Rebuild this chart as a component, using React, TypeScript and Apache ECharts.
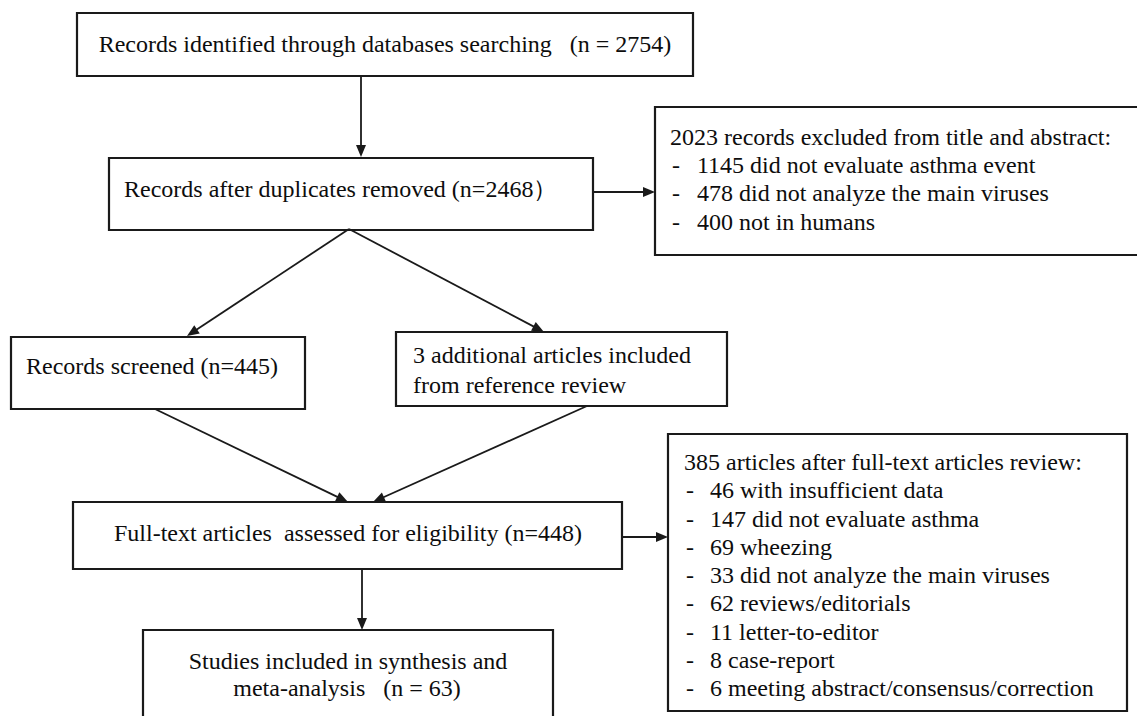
import React, { useEffect, useRef } from "react";
import * as echarts from "echarts";

// ---- Data (texts of the PRISMA flow diagram) ----
const identifiedText = "Records identified through databases searching\u00a0\u00a0\u00a0(n = 2754)";
const afterDuplicatesText = "Records after duplicates removed (n=2468\uff09";
const excludedTitle = "2023 records excluded from title and abstract:";
const excludedReasons = [
  "1145 did not evaluate asthma event",
  "478 did not analyze the main viruses",
  "400 not in humans",
];
const screenedText = "Records screened (n=445)";
const additionalLines = ["3 additional articles included", "from reference review"];
const fullTextText = "Full-text articles\u00a0 assessed for eligibility (n=448)";
const fullTextExclTitle = "385 articles after full-text articles review:";
const fullTextExclReasons = [
  "46 with insufficient data",
  "147 did not evaluate asthma",
  "69 wheezing",
  "33 did not analyze the main viruses",
  "62 reviews/editorials",
  "11 letter-to-editor",
  "8 case-report",
  "6 meeting abstract/consensus/correction",
];
const includedLines = ["Studies included in synthesis and", "meta-analysis\u00a0\u00a0\u00a0(n = 63)"];

// ---- Styling ----
const FONT = '"Liberation Serif", "Times New Roman", serif';
const FS = 24;
const TEXT_COLOR = "#0d0d0d";
const LINE_COLOR = "#1a1a1a";

function box(x1: number, y1: number, x2: number, y2: number) {
  return {
    type: "rect",
    shape: { x: x1, y: y1, width: x2 - x1, height: y2 - y1 },
    style: { fill: "#ffffff", stroke: LINE_COLOR, lineWidth: 2.2 },
  };
}

function text(t: string, x: number, y: number, align: string = "left") {
  return {
    type: "text",
    x,
    y,
    style: {
      text: t,
      fontFamily: FONT,
      fontSize: FS,
      fill: TEXT_COLOR,
      align,
      verticalAlign: "middle",
    },
  };
}

function arrow(x1: number, y1: number, x2: number, y2: number) {
  const els: any[] = [];
  const dx = x2 - x1;
  const dy = y2 - y1;
  const len = Math.sqrt(dx * dx + dy * dy);
  const ux = dx / len;
  const uy = dy / len;
  const hl = 12;
  const hw = 5;
  els.push({
    type: "line",
    shape: { x1, y1, x2: x2 - ux * hl * 0.6, y2: y2 - uy * hl * 0.6 },
    style: { stroke: LINE_COLOR, lineWidth: 1.8 },
  });
  const bx = x2 - ux * hl;
  const by = y2 - uy * hl;
  els.push({
    type: "polygon",
    shape: {
      points: [
        [x2, y2],
        [bx - uy * hw, by + ux * hw],
        [bx + uy * hw, by - ux * hw],
      ],
    },
    style: { fill: LINE_COLOR },
  });
  return els;
}

function listLines(
  title: string,
  items: string[],
  x: number,
  dashX: number,
  itemX: number,
  y0: number,
  step: number
) {
  const els: any[] = [text(title, x, y0)];
  items.forEach((it, i) => {
    const y = y0 + step * (i + 1);
    els.push(text("-", dashX, y));
    els.push(text(it, itemX, y));
  });
  return els;
}

function buildGraphic() {
  const g: any[] = [];
  // Boxes
  g.push(box(77, 13, 693, 76));
  g.push(box(109, 158, 593, 230));
  g.push(box(655, 107, 1142, 255));
  g.push(box(11, 337, 305, 409));
  g.push(box(396, 332, 727, 406));
  g.push(box(73, 502, 622, 569));
  g.push(box(668, 434, 1127, 711));
  g.push(box(143, 630, 553, 740));

  // Texts
  g.push(text(identifiedText, 385, 44, "center"));
  g.push(text(afterDuplicatesText, 124, 189));
  g.push(...listLines(excludedTitle, excludedReasons, 670, 672, 697, 137, 28.2));
  g.push(text(screenedText, 26, 366));
  g.push(text(additionalLines[0], 413, 355));
  g.push(text(additionalLines[1], 413, 385));
  g.push(text(fullTextText, 348, 533, "center"));
  g.push(...listLines(fullTextExclTitle, fullTextExclReasons, 684, 686, 710, 462, 28.25));
  g.push(text(includedLines[0], 348, 661, "center"));
  g.push(text(includedLines[1], 347, 688, "center"));

  // Arrows
  g.push(...arrow(361, 76, 361, 157));
  g.push(...arrow(593, 192, 655, 192));
  g.push(...arrow(349, 229, 187, 336));
  g.push(...arrow(349, 229, 544, 332));
  g.push(...arrow(155, 409, 348, 502));
  g.push(...arrow(587, 406, 373, 502));
  g.push(...arrow(622, 537, 668, 537));
  g.push(...arrow(362, 569, 362, 630));
  return g;
}

export default function App() {
  const ref = useRef<HTMLDivElement>(null);
  useEffect(() => {
    if (!ref.current) return;
    const chart = echarts.init(ref.current, undefined, { renderer: "svg" });
    chart.setOption({
      animation: false,
      backgroundColor: "#ffffff",
      graphic: { elements: buildGraphic() },
    });
    return () => chart.dispose();
  }, []);
  return (
    <div
      ref={ref}
      style={{ position: "absolute", left: 0, top: 0, width: 1137, height: 716, background: "#fff" }}
    />
  );
}
